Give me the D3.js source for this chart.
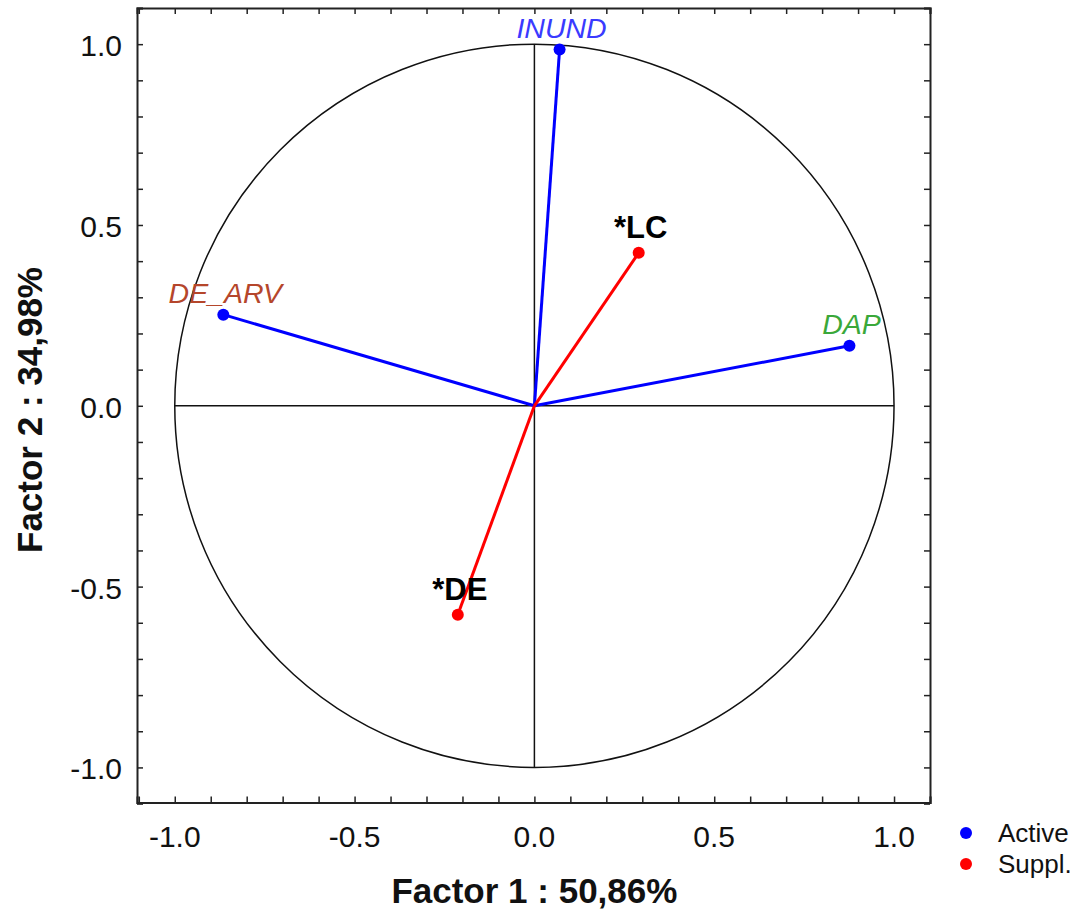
<!DOCTYPE html>
<html>
<head>
<meta charset="utf-8">
<script src="https://cdn.jsdelivr.net/npm/d3@7"></script>
<style>
  body { margin: 0; background: #fff; }
  svg text { font-family: Arial, "Liberation Sans", sans-serif; }
</style>
</head>
<body>
<div id="chart"></div>
<script>
// variable coordinates on factor 1 / factor 2
var varNames = ['INUND', 'DE_ARV', 'DAP', '*LC', '*DE'];
var factor1 = [0.07, -0.865, 0.876, 0.29, -0.213];
var factor2 = [0.985, 0.252, 0.166, 0.423, -0.578];
var varType = ['Active', 'Active', 'Active', 'Suppl.', 'Suppl.'];
var labelColors = ['#3a3aff', '#b5462b', '#3aa83a', '#000', '#000'];
var tickValues = [-1.0, -0.5, 0.0, 0.5, 1.0];
var legendItems = ['Active', 'Suppl.'];

var W = 1079, H = 912;
var svg = d3.select('#chart').append('svg')
  .attr('width', W).attr('height', H);

var x = d3.scaleLinear().domain([-1.105, 1.1]).range([137, 930]);
var y = d3.scaleLinear().domain([-1.097, 1.1]).range([802.5, 8]);
var typeColor = d3.scaleOrdinal().domain(legendItems).range(['#0000ff', '#ff0000']);

var g = svg.append('g');

// frame with inward ticks every 0.1
var minor = d3.range(-11, 12).map(function(d) { return d / 10; });
function fmt(d) { return d3.format('.1f')(d).replace('\u2212', '-'); }

var xAxis = g.append('g').attr('transform', 'translate(0,' + y.range()[0] + ')')
  .call(d3.axisBottom(x).tickValues(minor).tickSize(-6).tickFormat(''));
var yAxis = g.append('g').attr('transform', 'translate(' + x.range()[0] + ',0)')
  .call(d3.axisLeft(y).tickValues(minor).tickSize(-6).tickFormat(''));
var xTop = g.append('g').attr('transform', 'translate(0,' + y.range()[1] + ')')
  .call(d3.axisTop(x).tickValues(minor).tickSize(-6).tickFormat(''));
var yRight = g.append('g').attr('transform', 'translate(' + x.range()[1] + ',0)')
  .call(d3.axisRight(y).tickValues(minor).tickSize(-6).tickFormat(''));
[xAxis, yAxis, xTop, yRight].forEach(function(a) {
  a.selectAll('.domain').attr('stroke', '#222').attr('stroke-width', 2);
  a.selectAll('.tick line').attr('stroke', '#222').attr('stroke-width', 1.5);
});

// tick labels
g.selectAll('.xlab').data(tickValues).enter().append('text')
  .attr('x', function(d) { return x(d); })
  .attr('y', 847)
  .attr('text-anchor', 'middle')
  .style('font-size', '30px').attr('fill', '#111')
  .text(fmt);
g.selectAll('.ylab').data(tickValues).enter().append('text')
  .attr('x', 122)
  .attr('y', function(d) { return y(d) + 12; })
  .attr('text-anchor', 'end')
  .style('font-size', '30px').attr('fill', '#111')
  .text(fmt);

// unit circle and axes through origin
g.append('ellipse')
  .attr('cx', x(0)).attr('cy', y(0))
  .attr('rx', x(1) - x(0)).attr('ry', y(0) - y(1))
  .attr('fill', 'none').attr('stroke', '#111').attr('stroke-width', 1.5);
g.append('line')
  .attr('x1', x(-1)).attr('x2', x(1)).attr('y1', y(0)).attr('y2', y(0))
  .attr('stroke', '#111').attr('stroke-width', 1.5);
g.append('line')
  .attr('x1', x(0)).attr('x2', x(0)).attr('y1', y(-1)).attr('y2', y(1))
  .attr('stroke', '#111').attr('stroke-width', 1.5);

// vectors
var data = varNames.map(function(n, i) {
  return { name: n, f1: factor1[i], f2: factor2[i], type: varType[i], color: labelColors[i] };
});

g.selectAll('.vec').data(data).enter().append('line')
  .attr('x1', x(0)).attr('y1', y(0))
  .attr('x2', function(d) { return x(d.f1); })
  .attr('y2', function(d) { return y(d.f2); })
  .attr('stroke', function(d) { return typeColor(d.type); })
  .attr('stroke-width', 3);

g.selectAll('.pt').data(data).enter().append('circle')
  .attr('cx', function(d) { return x(d.f1); })
  .attr('cy', function(d) { return y(d.f2); })
  .attr('r', 6)
  .attr('fill', function(d) { return typeColor(d.type); });

g.selectAll('.vlab').data(data).enter().append('text')
  .attr('x', function(d) { return x(d.f1) + 2; })
  .attr('y', function(d) { return y(d.f2) - (d.type === 'Active' ? 12 : 15); })
  .attr('text-anchor', 'middle')
  .style('font-size', function(d) { return d.type === 'Active' ? '28.5px' : '31px'; })
  .style('font-style', function(d) { return d.type === 'Active' ? 'italic' : 'normal'; })
  .style('font-weight', function(d) { return d.type === 'Active' ? 'normal' : 'bold'; })
  .attr('fill', function(d) { return d.color; })
  .text(function(d) { return d.name; });

// axis titles
svg.append('text')
  .attr('x', x(0)).attr('y', 903)
  .attr('text-anchor', 'middle')
  .style('font-size', '35px').style('font-weight', 'bold').attr('fill', '#111')
  .text('Factor 1 : 50,86%');
svg.append('text')
  .attr('transform', 'translate(42,410) rotate(-90)')
  .attr('text-anchor', 'middle')
  .style('font-size', '35px').style('font-weight', 'bold').attr('fill', '#111')
  .text('Factor 2 : 34,98%');

// legend
var leg = svg.selectAll('.leg').data(legendItems).enter().append('g')
  .attr('transform', function(d, i) { return 'translate(966,' + (833 + i * 31) + ')'; });
leg.append('circle').attr('r', 6).attr('fill', function(d) { return typeColor(d); });
leg.append('text').attr('x', 32).attr('y', 9)
  .style('font-size', '26px').attr('fill', '#111')
  .text(function(d) { return d; });
</script>
</body>
</html>
